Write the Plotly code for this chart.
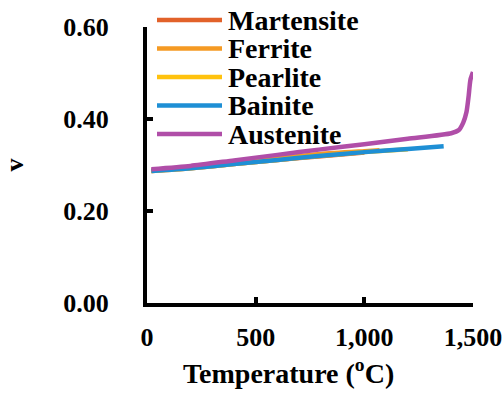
import plotly.graph_objects as go

series_names = ["Martensite", "Ferrite", "Pearlite", "Bainite", "Austenite"]
series_colors = ["#E2622A", "#F59A23", "#FFC20E", "#1E8FD5", "#B04EA8"]

temp_martensite = [20, 200, 400, 600, 800, 1000]
v_martensite = [0.287, 0.293, 0.302, 0.311, 0.319, 0.327]

temp_ferrite = [20, 200, 400, 600, 800, 1000, 1070]
v_ferrite = [0.288, 0.295, 0.305, 0.315, 0.324, 0.330, 0.332]

temp_pearlite = [20, 200, 400, 600, 800, 1000, 1200]
v_pearlite = [0.287, 0.293, 0.302, 0.311, 0.320, 0.328, 0.334]

temp_bainite = [20, 200, 400, 600, 800, 1000, 1200, 1365]
v_bainite = [0.287, 0.293, 0.302, 0.311, 0.320, 0.328, 0.335, 0.341]

temp_austenite = [20, 200, 400, 600, 800, 1000, 1200, 1400, 1435, 1455, 1470, 1480, 1488, 1500]
v_austenite = [0.291, 0.298, 0.310, 0.322, 0.334, 0.345, 0.357, 0.369, 0.376, 0.392, 0.415, 0.45, 0.485, 0.502]

x_ticks = [0, 500, 1000, 1500]
x_tick_labels = ["0", "500", "1,000", "1,500"]
y_ticks = [0.0, 0.2, 0.4, 0.6]
y_tick_labels = ["0.00", "0.20", "0.40", "0.60"]

xs = [temp_martensite, temp_ferrite, temp_pearlite, temp_bainite, temp_austenite]
ys = [v_martensite, v_ferrite, v_pearlite, v_bainite, v_austenite]

FONT = "Liberation Serif, Times New Roman, serif"
W, H = 503, 399
ML, MR, MT, MB = 147, 30, 27, 96
PW, PH = W - ML - MR, H - MT - MB

fig = go.Figure()
for name, color, x, y in zip(series_names, series_colors, xs, ys):
    fig.add_trace(go.Scatter(x=x, y=y, mode="lines", name=name, showlegend=False,
                             line=dict(color=color, width=4.5, shape="spline", smoothing=0.6)))

# manual legend (compact spacing like the original)
leg_x0, leg_x1, leg_text_x = 157, 222, 226
leg_y0, leg_dy = 20, 28.5
for i, (name, color) in enumerate(zip(series_names, series_colors)):
    py = leg_y0 + i * leg_dy
    yp = (H - MB - py) / PH
    fig.add_shape(type="line", xref="paper", yref="paper",
                  x0=(leg_x0 - ML) / PW, x1=(leg_x1 - ML) / PW, y0=yp, y1=yp,
                  line=dict(color=color, width=4.5))
    fig.add_annotation(xref="paper", yref="paper", x=(leg_text_x - ML) / PW, y=yp,
                       xanchor="left", yanchor="middle", showarrow=False, text=name,
                       font=dict(family=FONT, size=28, color="black", weight="bold"))

# x-axis title placed like the original (slightly left of centre)
fig.add_annotation(xref="paper", yref="paper", x=(288 - ML) / PW, y=(H - MB - 371) / PH,
                   xanchor="center", yanchor="middle", showarrow=False,
                   text="Temperature (<sup>o</sup>C)",
                   font=dict(family=FONT, size=28, color="black", weight="bold"))

fig.update_layout(
    width=W, height=H,
    margin=dict(l=ML, r=MR, t=MT, b=MB, autoexpand=False),
    plot_bgcolor="white", paper_bgcolor="white",
    font=dict(family=FONT, size=26, color="black", weight="bold"),
    showlegend=False,
    xaxis=dict(range=[0, 1500], tickvals=x_ticks, ticktext=x_tick_labels,
               showgrid=False, zeroline=False, showline=True, linecolor="black",
               linewidth=4, ticks="inside", ticklen=6, tickwidth=4, tickcolor="black",
               ticklabelstandoff=8),
    yaxis=dict(range=[0, 0.6], tickvals=y_ticks, ticktext=y_tick_labels,
               showgrid=False, zeroline=False, showline=True, linecolor="black",
               linewidth=4, ticks="inside", ticklen=6, tickwidth=4, tickcolor="black",
               ticklabelstandoff=29,
               title=dict(text="v", standoff=38,
                          font=dict(family=FONT, size=26, weight="bold"))),
)

fig.write_html("out.html")
